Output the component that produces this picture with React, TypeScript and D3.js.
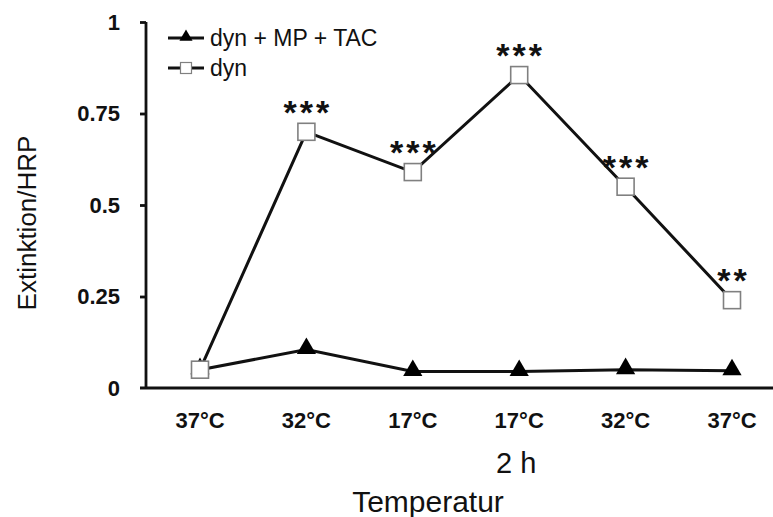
import React, { useRef, useEffect } from "react";
import * as d3 from "d3";

const categories = ["37°C", "32°C", "17°C", "17°C", "32°C", "37°C"];
const dynMpTac = [0.05, 0.105, 0.045, 0.045, 0.05, 0.047];
const dyn = [0.05, 0.70, 0.59, 0.855, 0.55, 0.24];
const stars = ["", "***", "***", "***", "***", "**"];
const yTicks = [0, 0.25, 0.5, 0.75, 1];
const yTickLabels = ["0", "0.25", "0.5", "0.75", "1"];

const FONT = "'Liberation Sans', Arial, sans-serif";

const App = () => {
  const ref = useRef<SVGSVGElement>(null);

  useEffect(() => {
    const svg = d3.select(ref.current);
    svg.selectAll("*").remove();

    const W = 773;
    const H = 517;
    svg.attr("width", W).attr("height", H);
    svg.append("rect").attr("width", W).attr("height", H).attr("fill", "#fff");

    const x = d3
      .scalePoint<number>()
      .domain(categories.map((_, i) => i))
      .range([200, 732]);
    const y = d3.scaleLinear().domain([0, 1]).range([388, 22]);

    // y axis
    const yAxis = svg
      .append("g")
      .attr("transform", "translate(146,0)")
      .call(
        d3
          .axisLeft(y)
          .tickValues(yTicks)
          .tickSize(6)
          .tickPadding(20)
          .tickFormat((d, i) => yTickLabels[i])
      );
    yAxis.select(".domain").attr("d", `M0,${y(1)}V${y(0)}`).attr("stroke", "#111").attr("stroke-width", 2.8);
    yAxis.selectAll(".tick line").attr("stroke", "#111").attr("stroke-width", 2.8);
    yAxis
      .selectAll(".tick text")
      .attr("font-family", FONT)
      .attr("font-weight", "bold")
      .attr("font-size", 22)
      .attr("fill", "#111");
    yAxis.selectAll(".tick").filter((d) => d === 0).select("line").remove();

    // x axis line
    svg
      .append("line")
      .attr("x1", 140)
      .attr("x2", W)
      .attr("y1", y(0))
      .attr("y2", y(0))
      .attr("stroke", "#111")
      .attr("stroke-width", 2.8);

    // x tick labels
    svg
      .append("g")
      .selectAll("text")
      .data(categories)
      .enter()
      .append("text")
      .attr("x", (d, i) => x(i))
      .attr("y", 428)
      .attr("text-anchor", "middle")
      .attr("font-family", FONT)
      .attr("font-weight", "bold")
      .attr("font-size", 22)
      .attr("fill", "#111")
      .text((d) => d);

    svg
      .append("text")
      .attr("x", (x(3) as number) - 3)
      .attr("y", 473)
      .attr("text-anchor", "middle")
      .attr("font-family", FONT)
      .attr("font-size", 29)
      .attr("fill", "#111")
      .text("2 h");

    svg
      .append("text")
      .attr("x", 428)
      .attr("y", 512)
      .attr("text-anchor", "middle")
      .attr("font-family", FONT)
      .attr("font-size", 30)
      .attr("fill", "#111")
      .text("Temperatur");

    svg
      .append("text")
      .attr("transform", `translate(36,${223}) rotate(-90)`)
      .attr("text-anchor", "middle")
      .attr("font-family", FONT)
      .attr("font-size", 26)
      .attr("fill", "#111")
      .text("Extinktion/HRP");

    const line = d3
      .line<number>()
      .x((d, i) => x(i) as number)
      .y((d) => y(d));

    // dyn + MP + TAC
    svg
      .append("path")
      .datum(dynMpTac)
      .attr("d", line)
      .attr("fill", "none")
      .attr("stroke", "#111")
      .attr("stroke-width", 3);

    const tri = d3.symbol().type(d3.symbolTriangle).size(160);
    svg
      .append("g")
      .selectAll("path")
      .data(dynMpTac)
      .enter()
      .append("path")
      .attr("d", tri)
      .attr("transform", (d, i) => `translate(${x(i)},${y(d) - 1})`)
      .attr("fill", "#000");

    // dyn
    svg
      .append("path")
      .datum(dyn)
      .attr("d", line)
      .attr("fill", "none")
      .attr("stroke", "#111")
      .attr("stroke-width", 3);

    const sq = 17;
    svg
      .append("g")
      .selectAll("rect")
      .data(dyn)
      .enter()
      .append("rect")
      .attr("x", (d, i) => (x(i) as number) - sq / 2)
      .attr("y", (d) => y(d) - sq / 2)
      .attr("width", sq)
      .attr("height", sq)
      .attr("fill", "#fff")
      .attr("stroke", "#808080")
      .attr("stroke-width", 1.6);

    // significance stars
    svg
      .append("g")
      .selectAll("text")
      .data(dyn)
      .enter()
      .append("text")
      .attr("x", (d, i) => (x(i) as number) + 1.5)
      .attr("y", (d) => y(d) - 8)
      .attr("text-anchor", "middle")
      .attr("font-family", FONT)
      .attr("font-weight", "bold")
      .attr("font-size", 34)
      .attr("letter-spacing", 3)
      .attr("fill", "#111")
      .text((d, i) => stars[i]);

    // legend
    const legend = svg.append("g");
    const lx1 = 168;
    const lx2 = 204;
    const lmid = (lx1 + lx2) / 2;
    legend
      .append("line")
      .attr("x1", lx1)
      .attr("x2", lx2)
      .attr("y1", 38)
      .attr("y2", 38)
      .attr("stroke", "#111")
      .attr("stroke-width", 2.8);
    legend
      .append("path")
      .attr("d", d3.symbol().type(d3.symbolTriangle).size(75))
      .attr("transform", `translate(${lmid},37)`)
      .attr("fill", "#000");
    legend
      .append("line")
      .attr("x1", lx1)
      .attr("x2", lx2)
      .attr("y1", 68)
      .attr("y2", 68)
      .attr("stroke", "#111")
      .attr("stroke-width", 2.8);
    legend
      .append("rect")
      .attr("x", lmid - 5.5)
      .attr("y", 68 - 5.5)
      .attr("width", 11)
      .attr("height", 11)
      .attr("fill", "#fff")
      .attr("stroke", "#808080")
      .attr("stroke-width", 1.2);
    legend
      .append("text")
      .attr("x", 210)
      .attr("y", 46)
      .attr("font-family", FONT)
      .attr("font-size", 23)
      .attr("fill", "#111")
      .text("dyn + MP + TAC");
    legend
      .append("text")
      .attr("x", 210)
      .attr("y", 76)
      .attr("font-family", FONT)
      .attr("font-size", 23)
      .attr("fill", "#111")
      .text("dyn");
  }, []);

  return (
    <svg
      ref={ref}
      style={{ position: "absolute", left: 0, top: 0, display: "block" }}
    />
  );
};

export default App;
